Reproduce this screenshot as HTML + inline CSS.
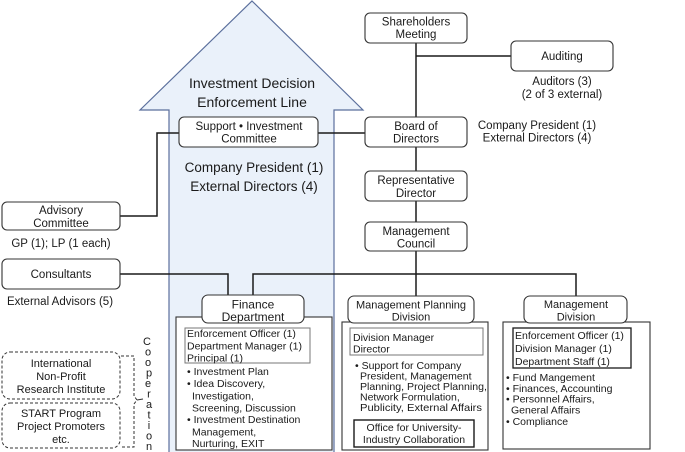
<!DOCTYPE html>
<html><head><meta charset="utf-8"><style>
html,body{margin:0;padding:0;background:#fff;}
svg{display:block;}
text{font-family:"Liberation Sans",sans-serif;fill:#1a1a1a;}
</style></head><body>
<svg width="685" height="452" viewBox="0 0 685 452" xmlns="http://www.w3.org/2000/svg">
<!-- big arrow -->
<polygon points="252,1 363,110 334,110 334,453 169,453 169,110 140,110" fill="#eaf1fa" stroke="#5b6f9c" stroke-width="1.2"/>
<g font-size="14" text-anchor="middle">
<text x="252" y="88">Investment Decision</text>
<text x="252" y="107">Enforcement Line</text>
</g>
<g font-size="13.5" text-anchor="middle">
<text x="254" y="172">Company President (1)</text>
<text x="254" y="191">External Directors (4)</text>
</g>

<!-- connectors -->
<g stroke="#1a1a1a" stroke-width="1.5" fill="none">
<line x1="416" y1="43" x2="416" y2="117"/>
<line x1="416" y1="56" x2="511" y2="56"/>
<line x1="416" y1="147" x2="416" y2="171"/>
<line x1="416" y1="201" x2="416" y2="222"/>
<line x1="416" y1="251" x2="416" y2="297"/>
<line x1="318" y1="133" x2="365" y2="133"/>
<polyline points="179,133 157,133 157,216 120,216"/>
<polyline points="120,274 228,274 228,296"/>
<polyline points="253,296 253,274 576,274 576,296"/>
</g>

<!-- top boxes -->
<g fill="#fff" stroke="#333" stroke-width="1.1">
<rect x="365" y="13" width="102" height="30" rx="5"/>
<rect x="511" y="41" width="102" height="30" rx="5"/>
<rect x="365" y="117" width="102" height="30" rx="5"/>
<rect x="365" y="171" width="102" height="30" rx="5"/>
<rect x="365" y="222" width="102" height="29" rx="5"/>
<rect x="179" y="117" width="139" height="30" rx="5"/>
<rect x="2" y="202" width="118" height="28" rx="5"/>
<rect x="2" y="259" width="118" height="30" rx="5"/>
</g>
<g font-size="11.5" text-anchor="middle">
<text x="416" y="25.5">Shareholders</text>
<text x="416" y="38">Meeting</text>
<text x="562" y="60">Auditing</text>
<text x="562" y="85">Auditors (3)</text>
<text x="562" y="98">(2 of 3 external)</text>
<text x="416" y="130">Board of</text>
<text x="416" y="142.5">Directors</text>
<text x="537" y="129">Company President (1)</text>
<text x="537" y="141.5">External Directors (4)</text>
<text x="416" y="184">Representative</text>
<text x="416" y="197">Director</text>
<text x="416" y="235">Management</text>
<text x="416" y="247.5">Council</text>
<text x="249" y="130">Support • Investment</text>
<text x="249" y="142.5">Committee</text>
<text x="61" y="214">Advisory</text>
<text x="61" y="227">Committee</text>
<text x="61" y="247">GP (1); LP (1 each)</text>
<text x="61" y="278">Consultants</text>
<text x="60" y="305">External Advisors (5)</text>
</g>

<!-- Finance department -->
<rect x="176" y="317" width="156" height="133" fill="#fff" stroke="#333" stroke-width="1.1"/>
<rect x="185" y="328" width="125" height="35" fill="#fff" stroke="#777" stroke-width="1"/>
<rect x="202" y="295" width="102" height="28" rx="6" fill="#fff" stroke="#333" stroke-width="1.1"/>
<g font-size="12" text-anchor="middle">
<text x="253" y="308.5">Finance</text>
<text x="253" y="321">Department</text>
</g>
<g font-size="10.5">
<text x="187" y="337">Enforcement Officer (1)</text>
<text x="187" y="349.5">Department Manager (1)</text>
<text x="187" y="361.5">Principal (1)</text>
<text x="187" y="375">• Investment Plan</text>
<text x="187" y="387">• Idea Discovery,</text>
<text x="192" y="399.5">Investigation,</text>
<text x="192" y="411.5">Screening, Discussion</text>
<text x="187" y="423">• Investment Destination</text>
<text x="192" y="435.5">Management,</text>
<text x="192" y="447">Nurturing, EXIT</text>
</g>

<!-- Management Planning Division -->
<rect x="342" y="322" width="146" height="128" fill="#fff" stroke="#333" stroke-width="1.1"/>
<rect x="350" y="328" width="133" height="27" fill="#fff" stroke="#777" stroke-width="1"/>
<rect x="348" y="296" width="126" height="27" rx="6" fill="#fff" stroke="#333" stroke-width="1.1"/>
<g font-size="11" text-anchor="middle">
<text x="411" y="308.5">Management Planning</text>
<text x="411" y="320.5">Division</text>
</g>
<g font-size="10.5">
<text x="353" y="341">Division Manager</text>
<text x="353" y="352.5">Director</text>
<text x="355" y="369">• Support for Company</text>
<text x="360" y="379.5">President, Management</text>
<text x="360" y="390" textLength="127" lengthAdjust="spacingAndGlyphs">Planning, Project Planning,</text>
<text x="360" y="400.5">Network Formulation,</text>
<text x="360" y="411" textLength="122" lengthAdjust="spacingAndGlyphs">Publicity, External Affairs</text>
</g>
<rect x="354" y="420" width="120" height="27" fill="#fff" stroke="#1a1a1a" stroke-width="1.4"/>
<g font-size="10.5" text-anchor="middle">
<text x="414" y="431">Office for University-</text>
<text x="414" y="443">Industry Collaboration</text>
</g>

<!-- Management Division -->
<rect x="503" y="322" width="147" height="127" fill="#fff" stroke="#333" stroke-width="1.1"/>
<rect x="513" y="328" width="118" height="40" fill="#fff" stroke="#1a1a1a" stroke-width="1.3"/>
<rect x="524" y="296" width="103" height="27" rx="6" fill="#fff" stroke="#333" stroke-width="1.1"/>
<g font-size="11" text-anchor="middle">
<text x="576" y="308">Management</text>
<text x="576" y="320.5">Division</text>
</g>
<g font-size="10.5">
<text x="515" y="339">Enforcement Officer (1)</text>
<text x="515" y="352">Division Manager (1)</text>
<text x="515" y="365">Department Staff (1)</text>
<text x="506" y="381">• Fund Mangement</text>
<text x="506" y="392">• Finances, Accounting</text>
<text x="506" y="402.5">• Personnel Affairs,</text>
<text x="511" y="413.5">General Affairs</text>
<text x="506" y="425">• Compliance</text>
</g>

<!-- cooperation -->
<g fill="none" stroke="#333" stroke-width="1" stroke-dasharray="3,2">
<rect x="2" y="352" width="118" height="47" rx="8"/>
<rect x="2" y="403" width="118" height="45" rx="8"/>
<path d="M121,356 H134 V396 L137,400 L134,404 V447 H121"/>
</g>
<line x1="137" y1="400" x2="143" y2="399" stroke="#333" stroke-width="1"/>
<g font-size="11" text-anchor="middle">
<text x="61" y="367">International</text>
<text x="61" y="380">Non-Profit</text>
<text x="61" y="393">Research Institute</text>
<text x="61" y="417">START Program</text>
<text x="61" y="430">Project Promoters</text>
<text x="61" y="443">etc.</text>
</g>
<g font-size="11" text-anchor="middle">
<text x="147" y="345">C</text>
<text x="148" y="355.5">o</text>
<text x="148" y="366">o</text>
<text x="149" y="376.5">p</text>
<text x="148" y="387">e</text>
<text x="149" y="397.5">r</text>
<text x="149" y="408">a</text>
<text x="149" y="418.5">t</text>
<text x="149" y="429">i</text>
<text x="149" y="439.5">o</text>
<text x="149" y="450">n</text>
</g>
</svg>
</body></html>
